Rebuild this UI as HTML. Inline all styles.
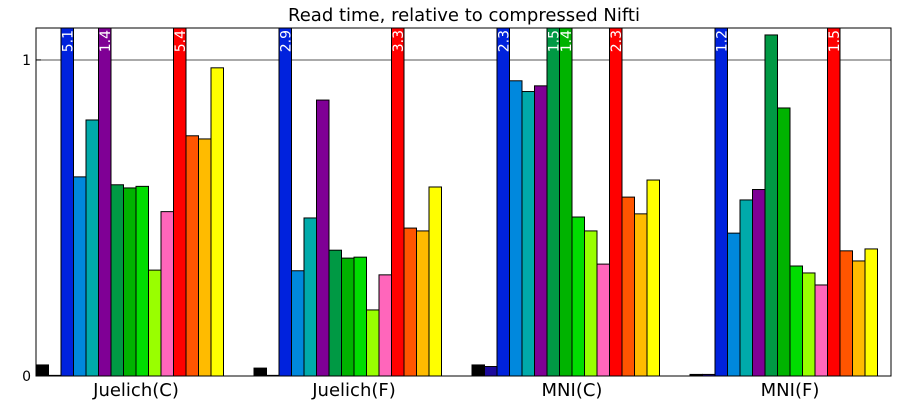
<!DOCTYPE html>
<html><head><meta charset="utf-8"><style>
body{margin:0;background:#fff;}
svg{display:block;font-family:"DejaVu Sans","Liberation Sans",sans-serif;}
</style></head><body>
<svg id="chart" width="900" height="400">
<text x="464" y="21" text-anchor="middle" font-size="18">Read time, relative to compressed Nifti</text>
<defs><clipPath id="pc"><rect x="36" y="28" width="855" height="348"/></clipPath></defs>
<line x1="36" y1="60" x2="891" y2="60" stroke="#555" stroke-width="1"/>
<g id="bars" clip-path="url(#pc)"></g>
<g id="labels"></g>
<rect x="36" y="28" width="855" height="348" fill="none" stroke="#000" stroke-width="1"/>
<g id="axes"></g>
</svg>
<script>
const groups = ["Juelich(C)","Juelich(F)","MNI(C)","MNI(F)"];
const colors = ["#000000","#1c0a9c","#0022dd","#0088dd","#00aaaa","#7f0095","#009944","#00b300","#00dd00","#99ff00","#ff66bb","#ff0000","#ff5500","#ffbb00","#ffff00"];
const valsJC = [0.035,0.002,5.1,0.63,0.81,1.4,0.605,0.595,0.60,0.335,0.52,5.4,0.76,0.75,0.975];
const valsJF = [0.025,0.002,2.9,0.333,0.5,0.873,0.398,0.373,0.376,0.209,0.32,3.3,0.468,0.459,0.598];
const valsMC = [0.035,0.03,2.3,0.934,0.9,0.918,1.5,1.4,0.503,0.459,0.354,2.3,0.566,0.513,0.62];
const valsMF = [0.005,0.005,1.2,0.452,0.557,0.59,1.079,0.848,0.348,0.326,0.288,1.5,0.396,0.364,0.402];
const yTicks = [0,1];
const series = [valsJC,valsJF,valsMC,valsMF];
const NS="http://www.w3.org/2000/svg";
const yMax=1.101, plotTop=28, plotBottom=376;
const yScale = v => plotBottom - v/yMax*(plotBottom-plotTop);
const groupX = g => 36 + g*218;
const barW = 12.5;
const barX = (g,i) => groupX(g) + i*barW;
const barsG=document.getElementById('bars'), labG=document.getElementById('labels'), axG=document.getElementById('axes');
series.forEach((vals,g)=>{
  vals.forEach((v,i)=>{
    const r=document.createElementNS(NS,'rect');
    const yy=Math.max(yScale(v),plotTop-5);
    r.setAttribute('x',barX(g,i)); r.setAttribute('y',yy);
    r.setAttribute('width',barW); r.setAttribute('height',plotBottom-yy);
    r.setAttribute('fill',colors[i]); r.setAttribute('stroke','#000'); r.setAttribute('stroke-width','1');
    
    
    barsG.appendChild(r);
    if(v>yMax){
      const t=document.createElementNS(NS,'text');
      const cx=barX(g,i)+barW/2+5, cy=30;
      t.setAttribute('transform','translate('+cx+','+cy+') rotate(-90)');
      t.setAttribute('text-anchor','end'); t.setAttribute('font-size','14'); t.setAttribute('fill','#fff');
      t.textContent=v.toFixed(1);
      
      
      labG.appendChild(t);
    }
  });
  const t=document.createElementNS(NS,'text');
  t.setAttribute('x',groupX(g)+100); t.setAttribute('y',396);
  t.setAttribute('text-anchor','middle'); t.setAttribute('font-size','18');
  t.textContent=groups[g];
  
  
  axG.appendChild(t);
});
yTicks.forEach(v=>{
  const t=document.createElementNS(NS,'text');
  t.setAttribute('x',31); t.setAttribute('y',yScale(v)+5);
  t.setAttribute('text-anchor','end'); t.setAttribute('font-size','14');
  t.textContent=v;
  
  
  axG.appendChild(t);
  const l=document.createElementNS(NS,'line');
  l.setAttribute('x1',36); l.setAttribute('x2',41); l.setAttribute('y1',yScale(v)); l.setAttribute('y2',yScale(v));
  l.setAttribute('stroke','#000');
  
  
  axG.appendChild(l);
});
</script>
</body></html>
